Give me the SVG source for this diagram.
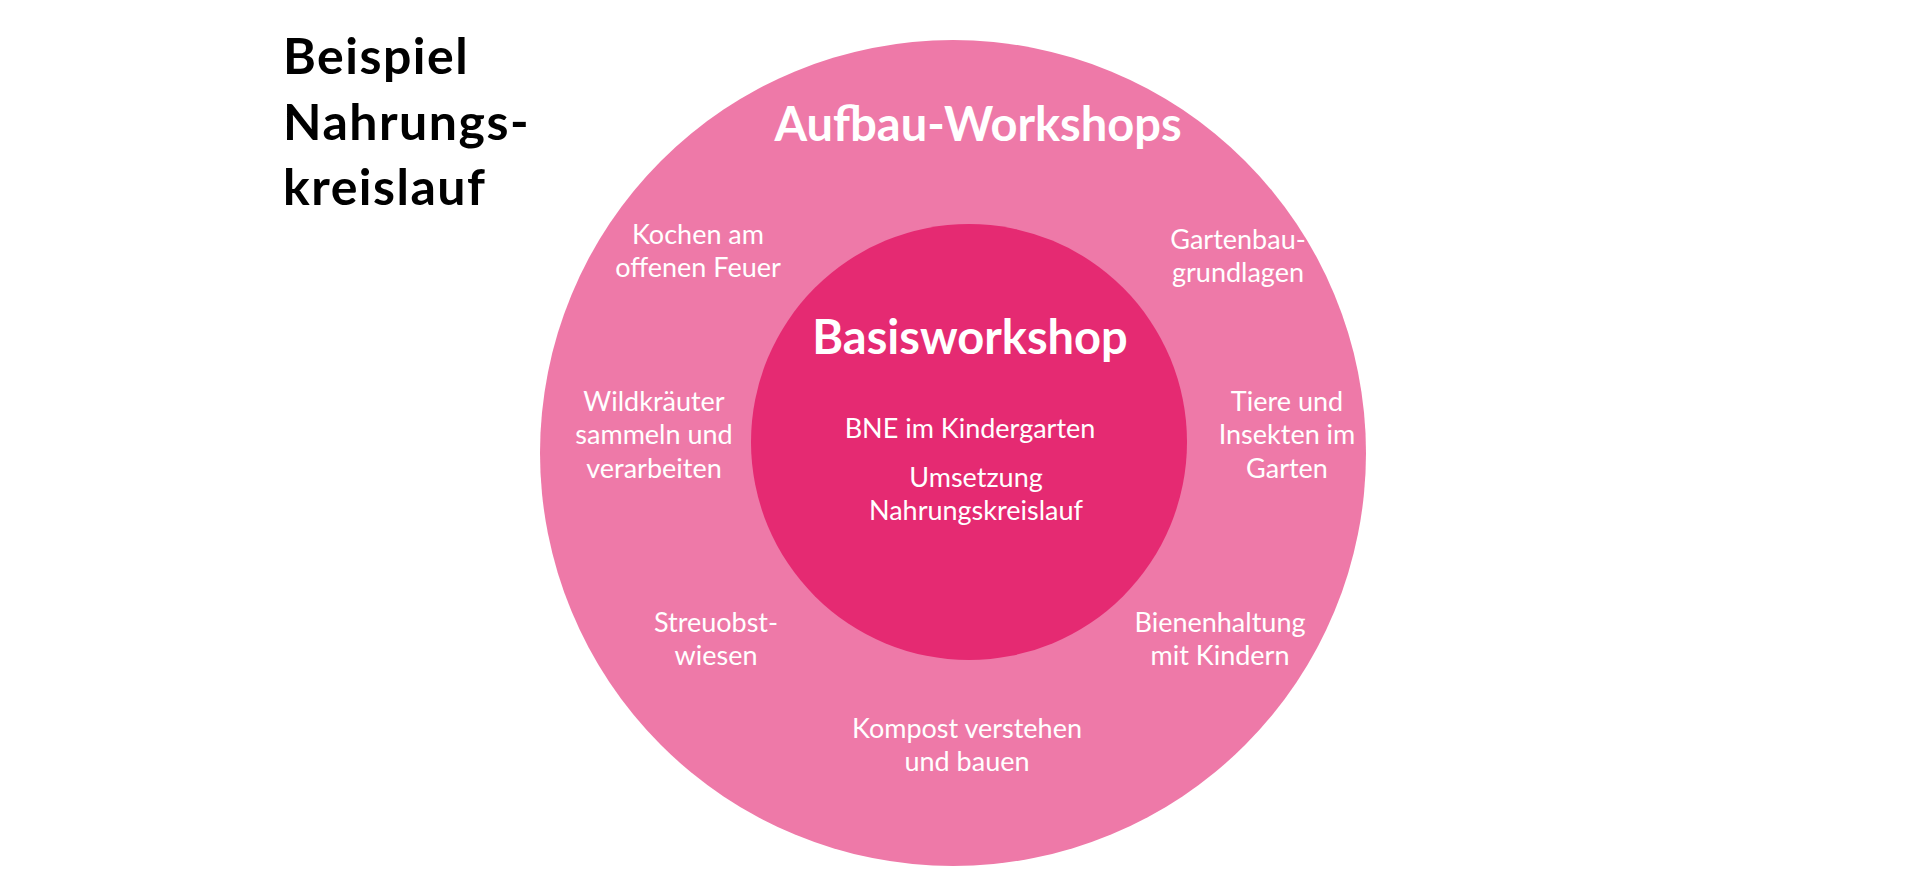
<svg xmlns="http://www.w3.org/2000/svg" width="1920" height="880" viewBox="0 0 1920 880">
<style>
text{font-family:Lato,"Open Sans","Liberation Sans",sans-serif;fill:#fff;text-anchor:middle}
.s{font-size:27px}
.h{font-size:47px;font-weight:bold}
.t{font-size:50px;font-weight:bold;fill:#000;text-anchor:start;letter-spacing:1.5px}
</style>
<rect width="1920" height="880" fill="#fff"/>
<g id="title"><text class="t" x="283" y="74">Beispiel</text><text class="t" x="283" y="140">Nahrungs-</text><text class="t" x="283" y="205">kreislauf</text></g>
<g id="outer"><circle cx="953" cy="453" r="413" fill="#EE79A8"/><text class="h" x="978" y="141">Aufbau-Workshops</text></g>
<g id="inner"><circle cx="969" cy="442" r="218" fill="#E52A72"/><text class="h" x="970" y="354">Basisworkshop</text>
<text class="s" x="970" y="438">BNE im Kindergarten</text>
<text class="s" x="976" y="487">Umsetzung</text><text class="s" x="976" y="520">Nahrungskreislauf</text></g>
<g id="n1"><text class="s" x="698" y="244">Kochen am</text><text class="s" x="698" y="277">offenen Feuer</text></g>
<g id="n2"><text class="s" x="1238" y="249">Gartenbau-</text><text class="s" x="1238" y="282">grundlagen</text></g>
<g id="n3"><text class="s" x="654" y="411">Wildkräuter</text><text class="s" x="654" y="444">sammeln und</text><text class="s" x="654" y="478">verarbeiten</text></g>
<g id="n4"><text class="s" x="1287" y="411">Tiere und</text><text class="s" x="1287" y="444">Insekten im</text><text class="s" x="1287" y="478">Garten</text></g>
<g id="n5"><text class="s" x="716" y="632">Streuobst-</text><text class="s" x="716" y="665">wiesen</text></g>
<g id="n6"><text class="s" x="1220" y="632">Bienenhaltung</text><text class="s" x="1220" y="665">mit Kindern</text></g>
<g id="n7"><text class="s" x="967" y="738">Kompost verstehen</text><text class="s" x="967" y="771">und bauen</text></g>
<g id="connectors"/>
</svg>
